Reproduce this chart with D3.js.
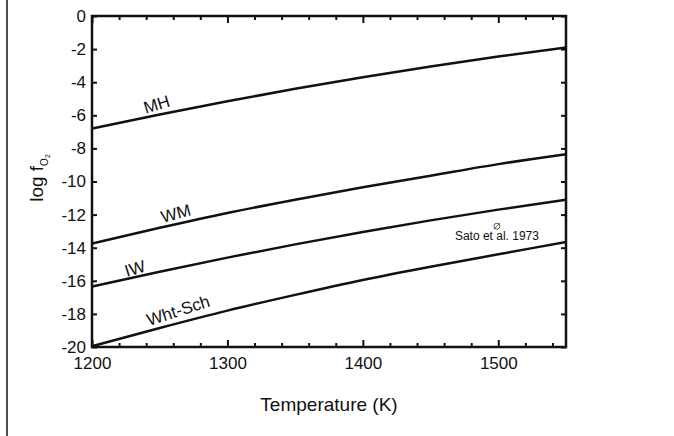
<!DOCTYPE html>
<html lang="en">
<head>
<meta charset="utf-8">
<title>log fO2 buffers</title>
<script src="https://cdnjs.cloudflare.com/ajax/libs/d3/7.8.5/d3.min.js"></script>
<style>
  body { margin: 0; background: #fff; }
  text { font-family: "Liberation Sans", Arial, sans-serif; fill: #111; }
</style>
</head>
<body>
<script>
// temperatures (K) where the buffer curves were read
var temps = [1200, 1250, 1300, 1350, 1400, 1450, 1500, 1550];

// log fO2 values
var mh     = [-6.8, -5.95, -5.15, -4.4, -3.7, -3.05, -2.45, -1.9];
var wm     = [-13.75, -12.8, -11.9, -11.1, -10.35, -9.65, -8.95, -8.35];
var iw     = [-16.35, -15.45, -14.6, -13.8, -13.05, -12.35, -11.7, -11.1];
var whtSch = [-19.95, -18.85, -17.8, -16.85, -15.95, -15.15, -14.4, -13.65];

var seriesNames = ["MH", "WM", "IW", "Wht-Sch"];
var seriesValues = [mh, wm, iw, whtSch];

// where each curve label sits: [temperature, log fO2, angle]
var labelPos = [[1249, -5.68, -17], [1263, -12.27, -15], [1233, -15.59, -17], [1265, -18.13, -18]];

var xTicks = [1200, 1300, 1400, 1500];
var yTicks = [0, -2, -4, -6, -8, -10, -12, -14, -16, -18, -20];

// Sato et al. 1973 point
var sato = { t: 1499, v: -12.7, label: "Sato et al. 1973" };

var w = 674, h = 436;
var mLeft = 92, mRight = 566, mTop = 16, mBottom = 347;

var svg = d3.select("body").append("svg")
  .attr("width", w)
  .attr("height", h);

// left frame line of the figure
svg.append("line")
  .attr("x1", 7).attr("x2", 7)
  .attr("y1", 0).attr("y2", h)
  .attr("stroke", "#111").attr("stroke-width", 1.5);

var x = d3.scaleLinear().domain([1200, 1550]).range([mLeft, mRight]);
var y = d3.scaleLinear().domain([-20, 0]).range([mBottom, mTop]);

var minor = d3.range(1200, 1551, 20).filter(function(d) { return d % 100 != 0; });

function styleAxis(g) {
  g.select(".domain").remove();
  g.selectAll("line").attr("stroke", "#111").attr("stroke-width", 2);
  g.selectAll("text").style("font-size", "17px").attr("fill", "#111");
}

// bottom: major with labels, minor without
svg.append("g")
  .attr("transform", "translate(0," + mBottom + ")")
  .call(d3.axisBottom(x).tickValues(xTicks).tickSize(-7).tickPadding(10).tickFormat(d3.format("d")))
  .call(styleAxis);
svg.append("g")
  .attr("transform", "translate(0," + mBottom + ")")
  .call(d3.axisBottom(x).tickValues(minor).tickSize(-4).tickFormat(""))
  .call(styleAxis);

// top
svg.append("g")
  .attr("transform", "translate(0," + mTop + ")")
  .call(d3.axisTop(x).tickValues(xTicks).tickSize(-7).tickFormat(""))
  .call(styleAxis);
svg.append("g")
  .attr("transform", "translate(0," + mTop + ")")
  .call(d3.axisTop(x).tickValues(minor).tickSize(-4).tickFormat(""))
  .call(styleAxis);

// left, plain hyphen for negatives
svg.append("g")
  .attr("transform", "translate(" + mLeft + ",0)")
  .call(d3.axisLeft(y).tickValues(yTicks).tickSize(-5).tickPadding(6)
    .tickFormat(function(d) { return String(d); }))
  .call(styleAxis);

// right
svg.append("g")
  .attr("transform", "translate(" + mRight + ",0)")
  .call(d3.axisRight(y).tickValues(yTicks).tickSize(-5).tickFormat(""))
  .call(styleAxis);

// frame
svg.append("rect")
  .attr("x", mLeft).attr("y", mTop)
  .attr("width", mRight - mLeft).attr("height", mBottom - mTop)
  .attr("fill", "none").attr("stroke", "#111").attr("stroke-width", 2.5);

// curves
var line = d3.line()
  .x(function(d) { return x(d[0]); })
  .y(function(d) { return y(d[1]); })
  .curve(d3.curveMonotoneX);

seriesValues.forEach(function(vals, i) {
  svg.append("path")
    .datum(temps.map(function(t, j) { return [t, vals[j]]; }))
    .attr("d", line)
    .attr("fill", "none")
    .attr("stroke", "#111")
    .attr("stroke-width", 2.5);

  var p = labelPos[i];
  svg.append("text")
    .attr("transform", "translate(" + x(p[0]) + "," + y(p[1]) + ") rotate(" + p[2] + ")")
    .attr("text-anchor", "middle")
    .style("font-size", "17px")
    .text(seriesNames[i]);
});

// Sato et al. point
var sx = x(sato.t), sy = y(sato.v);
svg.append("circle")
  .attr("cx", sx).attr("cy", sy).attr("r", 3)
  .attr("fill", "none").attr("stroke", "#333").attr("stroke-width", 0.8);
svg.append("line")
  .attr("x1", sx - 3).attr("y1", sy + 3)
  .attr("x2", sx + 3).attr("y2", sy - 3)
  .attr("stroke", "#333").attr("stroke-width", 0.8);
svg.append("text")
  .attr("x", sx).attr("y", sy + 14)
  .attr("text-anchor", "middle")
  .style("font-size", "12px")
  .text(sato.label);

// axis titles
svg.append("text")
  .attr("x", (mLeft + mRight) / 2)
  .attr("y", 411)
  .attr("text-anchor", "middle")
  .style("font-size", "19px")
  .text("Temperature (K)");

var yt = svg.append("text")
  .attr("transform", "translate(43,178) rotate(-90)")
  .attr("text-anchor", "middle")
  .style("font-size", "19px");
yt.append("tspan").text("log f");
yt.append("tspan").attr("dy", 5).style("font-size", "10px").text("O");
yt.append("tspan").attr("dy", 2).style("font-size", "7px").text("2");
</script>
</body>
</html>
